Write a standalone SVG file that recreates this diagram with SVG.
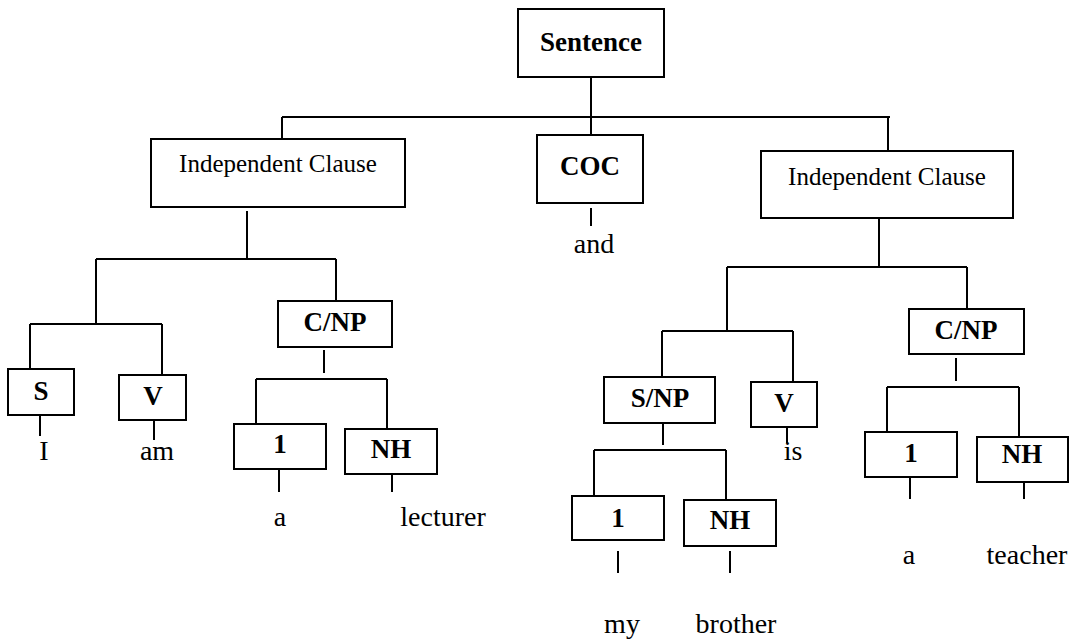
<svg xmlns="http://www.w3.org/2000/svg" width="1074" height="642" viewBox="0 0 1074 642">
<style>
.box{fill:#fff;stroke:#000;stroke-width:2}
.ln{stroke:#000;stroke-width:2;fill:none}
.b{font-family:"Liberation Serif","Times New Roman",serif;font-weight:bold;font-size:27px;text-anchor:middle;fill:#000}
.r{font-family:"Liberation Serif","Times New Roman",serif;font-size:25px;text-anchor:middle;fill:#000}
.w{font-family:"Liberation Serif","Times New Roman",serif;font-size:28px;text-anchor:middle;fill:#000}
</style>
<rect width="1074" height="642" fill="#fff"/>
<g id="connectors">
<path class="ln" d="M591 77V135M282 117H890M282 117V139M888 117V151"/>
<path class="ln" d="M591 208V226"/>
<path class="ln" d="M247 211V259M96 259H336M336 259V301M96 259V324M30 324H162M30 324V369M162 324V375"/>
<path class="ln" d="M40 412V436M154 420V440"/>
<path class="ln" d="M324 350V373M256 379H387M256 379V424M387 379V429M279 469V492M392 469V492"/>
<path class="ln" d="M879 218V267M727 267H967M727 267V331M662 331H793M662 331V377M793 331V382M967 267V309"/>
<path class="ln" d="M787 422V443M663 423V445M594 450H726M594 450V496M726 450V500M618 551V573M730 551V573"/>
<path class="ln" d="M956 358V381M887 387H1019M887 387V432M1019 387V437M910 477V499M1024 477V499"/>
</g>
<g id="sentence"><rect class="box" x="518" y="9" width="146" height="68"/><text class="b" x="591" y="51">Sentence</text></g>
<g id="ic-left"><rect class="box" x="151" y="139" width="254" height="68"/><text class="r" x="278" y="172">Independent Clause</text></g>
<g id="coc"><rect class="box" x="537" y="135" width="106" height="68"/><text class="b" x="590" y="175">COC</text></g>
<g id="and"><text class="w" x="594" y="253">and</text></g>
<g id="ic-right"><rect class="box" x="761" y="151" width="252" height="67"/><text class="r" x="887" y="185">Independent Clause</text></g>
<g id="s-left"><rect class="box" x="8" y="369" width="66" height="46"/><text class="b" x="41" y="400">S</text></g>
<g id="v-left"><rect class="box" x="119" y="375" width="67" height="45"/><text class="b" x="153" y="405">V</text></g>
<g id="w-I"><text class="w" x="44" y="460">I</text></g>
<g id="w-am"><text class="w" x="157" y="460">am</text></g>
<g id="cnp-left"><rect class="box" x="278" y="301" width="114" height="46"/><text class="b" x="335" y="331">C/NP</text></g>
<g id="one-left"><rect class="box" x="234" y="424" width="92" height="45"/><text class="b" x="280" y="453">1</text></g>
<g id="nh-left"><rect class="box" x="345" y="429" width="92" height="45"/><text class="b" x="391" y="458">NH</text></g>
<g id="w-a1"><text class="w" x="280" y="526">a</text></g>
<g id="w-lecturer"><text class="w" x="443" y="526">lecturer</text></g>
<g id="snp"><rect class="box" x="604" y="377" width="111" height="46"/><text class="b" x="660" y="407">S/NP</text></g>
<g id="v-right"><rect class="box" x="751" y="382" width="66" height="45"/><text class="b" x="784" y="412">V</text></g>
<g id="w-is"><text class="w" x="793" y="460">is</text></g>
<g id="one-mid"><rect class="box" x="572" y="496" width="92" height="44"/><text class="b" x="618" y="527">1</text></g>
<g id="nh-mid"><rect class="box" x="684" y="500" width="92" height="46"/><text class="b" x="730" y="529">NH</text></g>
<g id="w-my"><text class="w" x="622" y="633">my</text></g>
<g id="w-brother"><text class="w" x="736" y="633">brother</text></g>
<g id="cnp-right"><rect class="box" x="909" y="309" width="115" height="45"/><text class="b" x="966" y="339">C/NP</text></g>
<g id="one-right"><rect class="box" x="865" y="432" width="92" height="45"/><text class="b" x="911" y="462">1</text></g>
<g id="nh-right"><rect class="box" x="977" y="437" width="91" height="45"/><text class="b" x="1022" y="463">NH</text></g>
<g id="w-a2"><text class="w" x="909" y="564">a</text></g>
<g id="w-teacher"><text class="w" x="1027" y="564">teacher</text></g>
</svg>
